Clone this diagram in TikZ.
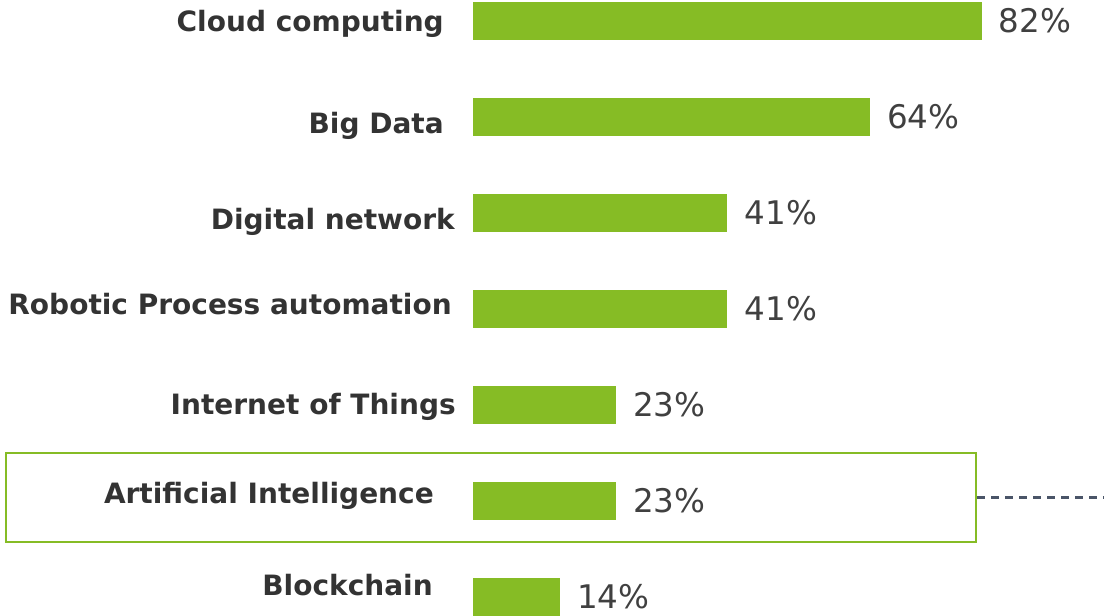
\documentclass[tikz,border=0pt]{standalone}
\usepackage{fontspec}
\setmainfont{DejaVu Sans}
\usepackage{xcolor}
\usetikzlibrary{positioning}
\definecolor{BarGreen}{HTML}{86bc25}
\definecolor{LabelGray}{HTML}{333333}
\definecolor{PctGray}{HTML}{404040}
\definecolor{LinkGray}{HTML}{4a5568}
\tikzset{
  bar/.style={fill=BarGreen, inner sep=0pt, anchor=west, minimum height=28.5pt, minimum width=#1*4.65pt},
  techlabel/.style={anchor=east, inner sep=0pt, text height=15.3pt, text depth=0pt, text=LabelGray, font=\bfseries\fontsize{21}{24}\selectfont},
  pct/.style={inner sep=0pt, text height=17.8pt, text depth=0pt, text=PctGray, font=\fontsize{24.4}{28}\selectfont},
  highlight/.style={draw=BarGreen, line width=1.8pt, inner sep=0pt, minimum width=727.5pt, minimum height=67pt},
  link/.style={draw=LinkGray, line width=1.8pt, dash pattern=on 6pt off 4.5pt}
}
\begin{document}
\begin{tikzpicture}[x=0.75pt, y=-0.75pt]%
\useasboundingbox (0,0) rectangle (1104,615);%
\node[highlight] (aibox) at (491,497.5) {};%
\coordinate (linkend) at (1104,497.5);%
\draw[link] (aibox.east) -- (linkend);%
\node[bar=82] (cloud) at (473,21) {};%
\node[pct, right=12.5pt of cloud] (cloudpct) {82\%};%
\node[techlabel] (cloudlbl) at (444,21.2) {Cloud computing};%
\node[bar=64] (bigdata) at (473,117) {};%
\node[pct, right=12.5pt of bigdata] (bigdatapct) {64\%};%
\node[techlabel] (bigdatalbl) at (444,123.5) {Big Data};%
\node[bar=41] (network) at (473,213) {};%
\node[pct, right=12.5pt of network] (networkpct) {41\%};%
\node[techlabel] (networklbl) at (455,219) {Digital network};%
\node[bar=41] (rpa) at (473,309) {};%
\node[pct, right=12.5pt of rpa] (rpapct) {41\%};%
\node[techlabel] (rpalbl) at (452,304.5) {Robotic Process automation};%
\node[bar=23] (iot) at (473,405) {};%
\node[pct, right=12.5pt of iot] (iotpct) {23\%};%
\node[techlabel] (iotlbl) at (456,404.5) {Internet of Things};%
\node[bar=23] (ai) at (473,501) {};%
\node[pct, right=12.5pt of ai] (aipct) {23\%};%
\node[techlabel] (ailbl) at (434,493) {Artificial Intelligence};%
\node[bar=14] (chain) at (473,597) {};%
\node[pct, right=12.5pt of chain] (chainpct) {14\%};%
\node[techlabel] (chainlbl) at (433,585.5) {Blockchain};%
\end{tikzpicture}
\end{document}
